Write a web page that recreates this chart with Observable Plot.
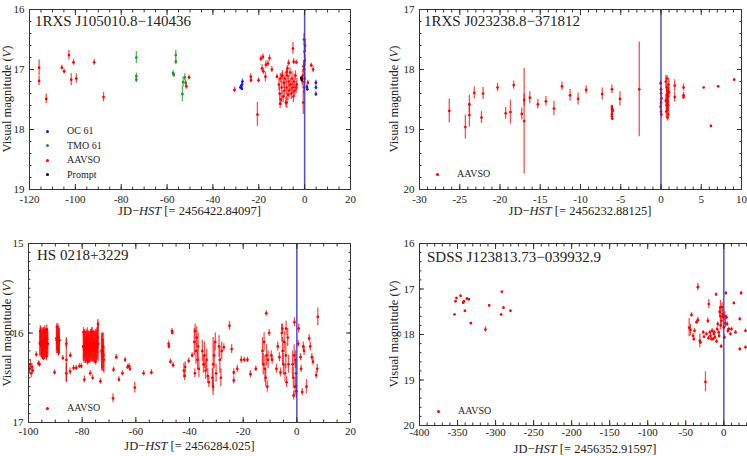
<!DOCTYPE html>
<html><head><meta charset="utf-8">
<script src="https://cdn.jsdelivr.net/npm/d3@7"></script>
<script src="https://cdn.jsdelivr.net/npm/@observablehq/plot@0.6"></script>
<style>
html,body{margin:0;padding:0;background:#fff;overflow:hidden;}
#fig{position:relative;width:747px;height:456px;overflow:hidden;font-family:"Liberation Serif","Times New Roman",serif;color:#222;}
.panel{position:absolute;}
.ylab{position:absolute;font-size:12.5px;line-height:14px;white-space:nowrap;transform:translate(-50%,-50%) rotate(-90deg);}
.xlab{position:absolute;font-size:12.5px;line-height:14px;white-space:nowrap;transform:translate(-50%,-50%);}
.title{position:absolute;font-size:15px;line-height:15px;white-space:nowrap;}
.legtxt{position:absolute;font-size:10px;line-height:12px;white-space:nowrap;}
.legdot{position:absolute;width:3px;height:3px;border-radius:50%;}
</style></head><body><div id="fig"></div>
<script>
// ---------- Panel 1: 1RXS J105010.8−140436 ----------
const p1Title = "1RXS J105010.8−140436";
const p1HST = "2456422.84097";
const p1OC61 = [[-28.0,17.3,.03],[-27.7,17.28,.03],[-27.4,17.32,.03],[-27.3,17.25,.04],[-27.1,17.2,.04],[1.0,17.29,.04],[1.2,17.33,.03],[4.9,17.22,.04],[4.9,17.3,.04],[4.9,17.41,.04]];
const p1TMO61 = [[-73.4,16.8,.1],[-73.4,17.11,.05],[-73.4,17.17,.05],[-57.4,17.06,.04],[-57.1,17.09,.04],[-56.2,16.76,.08],[-56.2,16.87,.05],[-53.3,17.41,.13],[-53.0,17.21,.08],[-52.3,17.13,.06],[-51.9,17.22,.05]];
const p1AAVSO = [[-115.8,16.97,.13],[-115.8,17.19,.08],[-112.7,17.49,.08],[-105.9,16.97,.04],[-104.9,17.03,.04],[-102.8,16.76,.08],[-101.8,17.17,.1],[-100.8,16.88,.05],[-99.6,17.15,.08],[-91.8,16.88,.05],[-87.7,17.46,.08],[-51.6,17.28,.05],[-50.4,17.13,.04],
[-30.6,17.34,.05],[-23.5,17.12,.05],[-23.4,17.18,.04],[-20.6,17.75,.2],[-20.1,17.18,.04],[-19.1,16.82,.05],[-18.6,16.98,.06],[-18.2,16.79,.05],[-18.0,17.03,.05],[-17.1,17.12,.08],[-16.9,16.92,.06],[-16.0,16.9,.05],[-15.3,16.81,.05],[-14.3,17.0,.05],[-12.1,17.12,.04],
[-11.2,17.25,.1],[-10.9,17.4,.12],[-10.7,17.57,.08],[-10.6,17.15,.08],[-10.3,17.5,.1],[-10.0,17.3,.12],[-9.9,17.1,.05],[-9.7,17.1,.08],[-9.4,17.45,.1],[-9.1,17.22,.1],[-8.8,17.35,.12],[-8.5,17.15,.1],[-8.2,17.55,.08],[-7.9,17.3,.12],[-7.8,17.04,.05],[-7.8,17.55,.1],[-7.6,17.1,.08],[-7.5,16.98,.05],[-7.3,17.42,.1],[-7.0,17.2,.1],[-7.0,16.89,.05],[-6.7,17.35,.12],[-6.4,17.05,.08],[-6.1,17.25,.1],[-5.8,17.4,.1],[-5.5,17.15,.12],[-5.2,17.3,.1],[-5.1,16.65,.1],[-4.9,17.45,.1],[-4.8,16.87,.05],[-4.6,17.2,.12],[-4.3,17.35,.1],[-4.0,17.1,.08],[-3.7,17.3,.1],[-3.6,16.88,.04],[-3.4,17.25,.1],
[-1.0,17.2,.08],[-0.8,17.1,.1],[-0.6,17.55,.2],[-0.5,16.95,.1],[-0.4,17.3,.1],[-0.3,16.5,.1],[-0.2,17.0,.12],[-0.1,16.7,.12],[0.0,17.15,.1],[0.1,16.85,.1],[0.2,16.6,.1],
[1.4,17.22,.04],[2.9,16.93,.04],[3.7,17.0,.05]];
const p1Prompt = [[-1.5,17.14,.02],[-1.3,17.17,.02]];

// ---------- Panel 2: 1RXS J023238.8−371812 ----------
const p2Title = "1RXS J023238.8−371812";
const p2HST = "2456232.88125";
const p2AAVSO = [[-26.3,18.69,.2],[-24.3,18.96,.2],[-23.8,18.58,.15],[-23.8,18.76,.2],[-23.2,18.39,.1],[-22.3,18.8,.1],[-22.1,18.4,.1],[-20.3,18.3,.07],[-19.3,18.73,.1],[-18.7,18.71,.2],[-18.3,18.26,.07],[-17.3,18.74,.1],[-17.0,18.86,.88],[-17.0,18.51,.1],[-16.3,18.47,.1],[-15.3,18.58,.08],[-14.3,18.53,.08],[-13.3,18.65,.12],[-12.3,18.28,.07],[-11.3,18.43,.1],[-10.3,18.49,.1],[-9.3,18.34,.07],[-7.3,18.41,.1],[-6.1,18.33,.07],
[-6.1,18.62,.03],[-6.1,18.66,.03],[-6.05,18.7,.03],[-6.1,18.74,.03],[-6.1,18.78,.03],[-6.05,18.82,.03],[-6.0,18.68,.03],
[-5.1,18.49,.12],[-2.7,18.33,.79],
[-0.05,18.23,.04],[0.0,18.33,.04],[0.0,18.4,.04],[0.05,18.48,.05],[0.0,18.55,.05],[-0.05,18.62,.05],[0.0,18.7,.04],[0.05,18.75,.04],
[0.6,18.2,.1],[0.7,18.3,.1],[0.8,18.4,.12],[0.75,18.5,.1],[0.85,18.55,.12],[0.7,18.6,.1],[0.8,18.65,.12],[0.9,18.45,.1],[0.65,18.7,.1],[0.85,18.35,.1],[0.95,18.25,.1],[0.9,18.75,.08],
[0.75,18.15,.05],[0.8,18.8,.06],[0.7,18.42,.1],[0.9,18.6,.1],[0.6,18.52,.08],[1.0,18.38,.08],
[1.7,18.27,.1],[1.7,18.46,.08],[2.8,18.3,.06],[2.8,18.43,.05],[2.8,18.46,.04],[5.3,18.3,.01],[6.2,18.94,.01],[7.1,18.28,.01],[9.1,18.17,.01]];

// ---------- Panel 3: HS 0218+3229 ----------
const p3Title = "HS 0218+3229";
const p3HST = "2456284.025";
const p3AAVSO = [[-99.6,16.4,.06],[-99.3,16.35,.05],[-99.0,16.45,.05],[-98.7,16.38,.04],[-98.4,16.42,.04],[-97.1,16.24,.03],[-96.3,16.34,.03],[-95.9,16.35,.03],
[-95.8,16.12,.14],[-95.65,16.1,.15],[-95.6,15.98,.06],[-95.5,16.05,.12],[-95.35,16.12,.15],[-95.2,16.15,.14],[-95.05,16.1,.16],[-94.9,16.1,.15],[-94.8,16.25,.05],[-94.75,16.12,.15],[-94.6,16.18,.12],[-94.45,16.1,.16],[-94.4,16.28,.03],[-94.3,16.08,.14],[-94.15,16.12,.15],[-94.0,16.14,.15],[-93.9,15.97,.05],[-93.85,16.1,.16],[-93.7,16.1,.14],[-93.55,16.12,.15],[-93.4,16.16,.13],[-93.3,16.26,.05],[-93.25,16.1,.15],[-93.2,15.96,.05],[-93.1,16.07,.12],[-92.95,16.12,.15],[-92.8,16.12,.14],
[-90.3,16.44,.03],
[-89.6,16.06,.14],[-89.45,16.08,.15],[-89.4,15.93,.04],[-89.3,16.1,.13],[-89.15,16.08,.15],[-89.0,16.05,.15],[-88.85,16.1,.15],[-88.8,16.22,.04],[-88.7,16.12,.12],[-88.6,16.08,.15],[-88.5,16.08,.13],
[-87.2,16.28,.03],[-85.9,16.3,.25],[-85.9,16.45,.1],[-85.9,16.12,.05],[-84.5,16.43,.04],[-84.4,16.25,.03],[-83.2,16.39,.03],[-82.2,16.39,.03],[-81.0,16.37,.03],[-80.3,16.37,.03],[-79.2,16.52,.04],
[-79.6,16.15,.16],[-79.5,15.99,.05],[-79.45,16.15,.17],[-79.3,16.18,.16],[-79.15,16.14,.17],[-79.0,16.12,.16],[-78.85,16.16,.17],[-78.7,16.2,.14],[-78.55,16.15,.17],[-78.4,16.15,.17],[-78.25,16.14,.17],[-78.1,16.1,.16],[-78.0,16.32,.04],[-77.95,16.15,.17],[-77.8,16.18,.16],[-77.65,16.15,.17],[-77.5,16.14,.16],[-77.35,16.16,.17],[-77.2,16.2,.14],[-77.05,16.15,.17],[-76.9,16.12,.16],[-76.75,16.15,.17],[-76.6,16.16,.16],[-76.5,15.99,.05],[-76.45,16.14,.17],[-76.3,16.1,.16],[-76.15,16.15,.17],[-76.0,16.18,.15],[-75.85,16.15,.17],[-75.7,16.14,.17],[-75.55,16.16,.17],[-75.4,16.2,.14],[-75.25,16.15,.17],[-75.1,16.12,.16],[-75.0,16.32,.04],[-74.95,16.15,.17],[-74.8,16.16,.16],[-74.65,16.14,.17],[-74.5,16.1,.16],[-74.35,16.12,.18],[-74.2,16.05,.18],[-74.1,15.9,.05],[-74.0,16.12,.2],
[-77.0,16.45,.03],[-76.1,16.5,.03],[-73.2,16.54,.03],
[-72.8,16.2,.2],[-72.65,16.22,.2],[-72.5,16.25,.18],[-72.35,16.2,.2],[-72.2,16.15,.15],[-72.05,16.25,.18],[-71.9,16.3,.15],
[-68.5,16.73,.05],[-68.3,16.41,.03],[-67.3,16.27,.03],[-66.3,16.52,.03],[-65.0,16.45,.03],[-64.0,16.3,.03],[-63.1,16.38,.03],[-62.5,16.37,.03],[-62.2,16.4,.03],[-60.4,16.61,.06],[-57.1,16.45,.03],[-54.2,16.44,.03],
[-47.8,16.12,.03],[-47.7,16.15,.03],[-47.1,16.32,.03],[-46.5,15.98,.03],[-46.4,16.0,.02],[-46.1,16.36,.03],
[-42.1,16.42,.08],[-41.8,16.48,.05],[-41.6,16.38,.06],[-40.3,16.31,.03],[-39.0,16.25,.03],
[-38.2,16.1,.15],[-38.0,16.45,.05],[-37.9,15.98,.08],[-37.6,16.2,.15],[-37.3,16.05,.12],[-37.0,16.3,.12],[-36.8,16.15,.15],[-36.5,16.4,.1],
[-35.2,16.2,.12],[-34.8,16.35,.1],[-34.4,16.25,.15],[-34.0,16.42,.1],[-33.6,16.3,.12],[-33.2,16.48,.08],[-32.8,16.55,.06],
[-31.5,16.5,.1],[-31.2,16.35,.3],[-31.2,16.6,.1],[-30.8,16.25,.15],[-30.4,16.1,.1],[-30.1,16.45,.1],
[-29.0,16.15,.12],[-28.7,16.3,.15],[-28.3,16.5,.1],[-28.0,16.2,.1],[-27.2,16.16,.04],[-25.1,15.92,.05],[-24.3,16.18,.05],[-23.5,16.44,.04],[-23.5,16.53,.04],[-22.2,16.4,.04],[-20.7,16.3,.04],[-19.6,16.3,.03],[-18.4,16.3,.03],[-17.3,16.46,.04],[-15.3,16.4,.03],
[-12.8,16.2,.15],[-12.5,16.35,.12],[-12.2,16.1,.1],[-11.9,16.4,.15],[-11.6,16.5,.1],[-11.4,15.78,.03],[-11.3,16.25,.12],[-11.0,16.6,.06],[-10.7,16.3,.1],[-10.3,16.0,.04],[-9.5,16.25,.05],[-9.2,16.3,.05],[-7.6,16.4,.05],[-7.1,16.15,.05],[-6.5,16.27,.05],[-6.1,16.44,.05],
[-5.6,16.0,.1],[-5.4,15.95,.05],[-5.3,16.2,.15],[-5.0,16.35,.12],[-4.7,16.1,.12],[-4.4,16.45,.1],[-4.1,16.25,.15],[-4.0,15.95,.08],[-3.8,16.55,.06],[-3.4,16.05,.1],[-3.1,16.35,.1],
[-1.6,16.35,.15],[-1.3,16.5,.12],[-1.2,16.7,.05],[-1.0,16.25,.12],[-0.9,15.88,.05],[-0.7,16.6,.1],[-0.5,16.3,.1],[-0.4,16.45,.15],[-0.2,16.65,.08],
[0.5,16.12,.04],[0.7,15.95,.05],[1.4,16.27,.04],[1.6,16.4,.04],[2.0,16.66,.04],[2.4,16.15,.05],[2.7,16.2,.05],[3.6,16.6,.08],[4.6,16.06,.04],[5.0,16.15,.05],[5.6,16.27,.04],[6.0,16.32,.04],[7.2,16.47,.04],[7.6,16.4,.05],[7.8,15.82,.1]];

// ---------- Panel 4: SDSS J123813.73−039932.9 ----------
const p4Title = "SDSS J123813.73−039932.9";
const p4HST = "2456352.91597";
const p4AAVSO = [[-354,17.56,.02],[-352.7,17.27,.02],[-351.4,17.2,.02],[-346.1,17.15,.02],[-342.6,17.3,.02],[-341.7,17.27,.02],[-340.4,17.48,.02],[-337.8,17.21,.02],[-335.2,17.23,.02],[-332.5,17.75,.02],[-313.3,17.89,.06],[-308.4,17.36,.02],[-292.7,17.56,.02],[-291.8,17.06,.02],[-289.6,17.41,.02],[-280.4,17.48,.02],
[-45.5,17.85,.2],[-43.8,17.9,.13],[-42.5,17.57,.05],[-40.3,18.03,.05],[-39.4,18.1,.05],[-38.5,17.92,.05],[-35.9,17.73,.04],[-34.1,17.68,.06],[-34.1,16.96,.08],[-31.5,18.14,.15],[-30.7,18.17,.05],[-27.0,17.95,.04],[-26.0,18.05,.04],[-24.1,19.04,.22],[-22.8,17.99,.04],[-21.0,17.7,.06],[-20.0,18.08,.04],[-19.7,17.33,.1],[-18.4,17.95,.04],[-17.5,18.03,.05],[-16.2,18.1,.04],[-15.3,17.92,.05],[-14.0,18.1,.04],[-13.1,17.99,.04],[-12.5,17.95,.05],[-11.8,18.06,.05],[-10.1,17.12,.03],[-9.5,18.15,.05],[-8.7,17.88,.05],[-7.9,17.77,.05],[-6.8,17.95,.05],[-6.1,18.03,.05],[-5.5,17.5,.1],[-4.4,17.4,.15],[-4.4,17.6,.12],[-4.2,17.8,.1],[-3.5,18.26,.04],[-3.0,17.7,.12],[-2.2,17.4,.1],[-1.5,17.55,.1],[-0.9,17.62,.05],[0.0,17.84,.05],[0.9,18.06,.05],[1.5,17.6,.1],[2.0,17.75,.1],[2.6,17.09,.04],[3.5,17.62,.05],[4.4,17.77,.05],[5.3,17.92,.05],[6.6,17.88,.04],[8.8,17.99,.04],[10.1,17.88,.04],[13.2,17.31,.03],[15.4,17.95,.04],[21.0,17.66,.04],[21.0,18.32,.04],[22.8,17.09,.04],[28.5,17.92,.04],[28.5,18.28,.04]];

// HST reference epoch marked in every panel (JD − HST = 0)
const hstLine = [0];

// tick labels
const p1XTicks = [-120,-100,-80,-60,-40,-20,0,20];
const p1YTicks = [16,17,18,19];
const p2XTicks = [-30,-25,-20,-15,-10,-5,0,5,10];
const p2YTicks = [17,18,19,20];
const p3XTicks = [-100,-80,-60,-40,-20,0,20];
const p3YTicks = [15,16,17];
const p4XTicks = [-400,-350,-300,-250,-200,-150,-100,-50,0];
const p4YTicks = [16,17,18,19,20];

const RED = "#ff0000", GREEN = "#1a961a", BLUE = "#1515f0", BLACK = "#000000";
const fig = document.getElementById("fig");

function html(cls, left, top, content) {
  const d = document.createElement("div");
  d.className = cls; d.style.left = left + "px"; d.style.top = top + "px";
  d.innerHTML = content; fig.appendChild(d); return d;
}

function makePanel(c) {
  const [mT, mR, mB, mL] = c.margins;
  const marks = [];
  for (const s of c.series) {
    const rows = s.data.map(([jd, mag, err]) => ({jd, mag, err}));
    marks.push(Plot.ruleX(rows, {x: "jd", y1: d => d.mag - d.err, y2: d => d.mag + d.err, stroke: s.color, strokeOpacity: 0.7, strokeWidth: 1.3, clip: true}));
    marks.push(Plot.dot(rows, {x: "jd", y: "mag", r: 1.35, fill: s.color, stroke: "none", clip: true}));
  }
  marks.push(Plot.ruleX(hstLine, {stroke: "#2f2fd0", strokeWidth: 1.5, strokeOpacity: 0.85, clip: true}));
  const fmt = d => String(d);
  marks.push(
    Plot.axisX(c.xTicks, {anchor: "bottom", tickSize: 0, tickPadding: c.xPad, tickFormat: fmt, label: null, fill: "#222"}),
    Plot.axisX(c.xTicks, {anchor: "bottom", tickSize: -5, fill: "none", label: null, stroke: "#333"}),
    Plot.axisX(c.xTicks, {anchor: "top", tickSize: -5, fill: "none", label: null, stroke: "#333"}),
    Plot.axisX(c.xMinor, {anchor: "bottom", tickSize: -2.5, fill: "none", label: null, stroke: "#333"}),
    Plot.axisX(c.xMinor, {anchor: "top", tickSize: -2.5, fill: "none", label: null, stroke: "#333"}),
    Plot.axisY(c.yTicks, {anchor: "left", tickSize: 0, tickPadding: 5, tickFormat: fmt, label: null, fill: "#222"}),
    Plot.axisY(c.yTicks, {anchor: "left", tickSize: -5, fill: "none", label: null, stroke: "#333"}),
    Plot.axisY(c.yTicks, {anchor: "right", tickSize: -5, fill: "none", label: null, stroke: "#333"}),
    Plot.axisY(c.yMinor, {anchor: "left", tickSize: -2.5, fill: "none", label: null, stroke: "#333"}),
    Plot.axisY(c.yMinor, {anchor: "right", tickSize: -2.5, fill: "none", label: null, stroke: "#333"}),
    Plot.frame({stroke: "#333", strokeWidth: 1})
  );
  const svg = Plot.plot({
    width: c.width, height: c.height,
    marginTop: mT, marginRight: mR, marginBottom: mB, marginLeft: mL,
    x: {type: "linear", domain: c.xDomain},
    y: {type: "linear", domain: c.yDomain, reverse: true},
    style: {fontFamily: "'Liberation Serif','Times New Roman',serif", fontSize: "11px", background: "transparent", color: "#222", maxWidth: "none"},
    marks
  });
  svg.classList.add("panel");
  svg.style.left = c.left + "px"; svg.style.top = c.top + "px";
  fig.appendChild(svg);

  const fx = c.left + mL, fy = c.top + mT, fy2 = c.top + c.height - mB;
  html("title", fx + c.titleDx, fy + c.titleDy, c.title);
  html("ylab", c.yLabX, (fy + fy2) / 2, "Visual magnitude (<i>V</i>)");
  html("xlab", c.xLabCX, c.xLabY, "JD−<i>HST</i> [= " + c.hst + "]");
  c.series.forEach((s, i) => {
    const ly = c.legY + i * c.legStep;
    const dot = html("legdot", c.legX - 1.5, ly - 1.5, "");
    dot.style.background = s.color;
    html("legtxt", c.legX + 20, ly - 6, s.name);
  });
}

const rng = (a, b, s) => d3.range(a, b + s / 2, s);

makePanel({left: 0, top: 0, width: 374, height: 228, margins: [9, 24, 39, 29],
  xDomain: [-120, 20], yDomain: [16, 19], xTicks: p1XTicks, yTicks: p1YTicks,
  xMinor: rng(-120, 20, 5), yMinor: rng(16, 19, 0.2), xPad: 6,
  series: [{name: "OC 61", color: BLUE, data: p1OC61}, {name: "TMO 61", color: GREEN, data: p1TMO61},
           {name: "AAVSO", color: RED, data: p1AAVSO}, {name: "Prompt", color: BLACK, data: p1Prompt}],
  title: p1Title, titleDx: 6, titleDy: 5, hst: p1HST,
  yLabX: 7, xLabCX: 189.5, xLabY: 211, legX: 47, legY: 131, legStep: 14.6});

makePanel({left: 374, top: 0, width: 373, height: 228, margins: [9, 6, 39, 45],
  xDomain: [-30, 10], yDomain: [17, 20], xTicks: p2XTicks, yTicks: p2YTicks,
  xMinor: rng(-30, 10, 1), yMinor: rng(17, 20, 0.2), xPad: 5.5,
  series: [{name: "AAVSO", color: RED, data: p2AAVSO}],
  title: p2Title, titleDx: 5, titleDy: 5, hst: p2HST,
  yLabX: 394, xLabCX: 580, xLabY: 211, legX: 437, legY: 174, legStep: 0});

makePanel({left: 0, top: 228, width: 374, height: 228, margins: [15, 24, 34, 28],
  xDomain: [-100, 20], yDomain: [15, 17], xTicks: p3XTicks, yTicks: p3YTicks,
  xMinor: rng(-100, 20, 5), yMinor: rng(15, 17, 0.1), xPad: 5,
  series: [{name: "AAVSO", color: RED, data: p3AAVSO}],
  title: p3Title, titleDx: 9, titleDy: 5, hst: p3HST,
  yLabX: 7, xLabCX: 189.5, xLabY: 446, legX: 47, legY: 408, legStep: 0});

makePanel({left: 374, top: 228, width: 383, height: 228, margins: [15, 0, 31, 45],
  xDomain: [-400, 44.3], yDomain: [16, 20], xTicks: p4XTicks, yTicks: p4YTicks,
  xMinor: rng(-400, 40, 10), yMinor: rng(16, 20, 0.2), xPad: 3,
  series: [{name: "AAVSO", color: RED, data: p4AAVSO}],
  title: p4Title, titleDx: 8, titleDy: 7, hst: p4HST,
  yLabX: 394, xLabCX: 585, xLabY: 449, legX: 438, legY: 411, legStep: 0});
</script></body></html>
